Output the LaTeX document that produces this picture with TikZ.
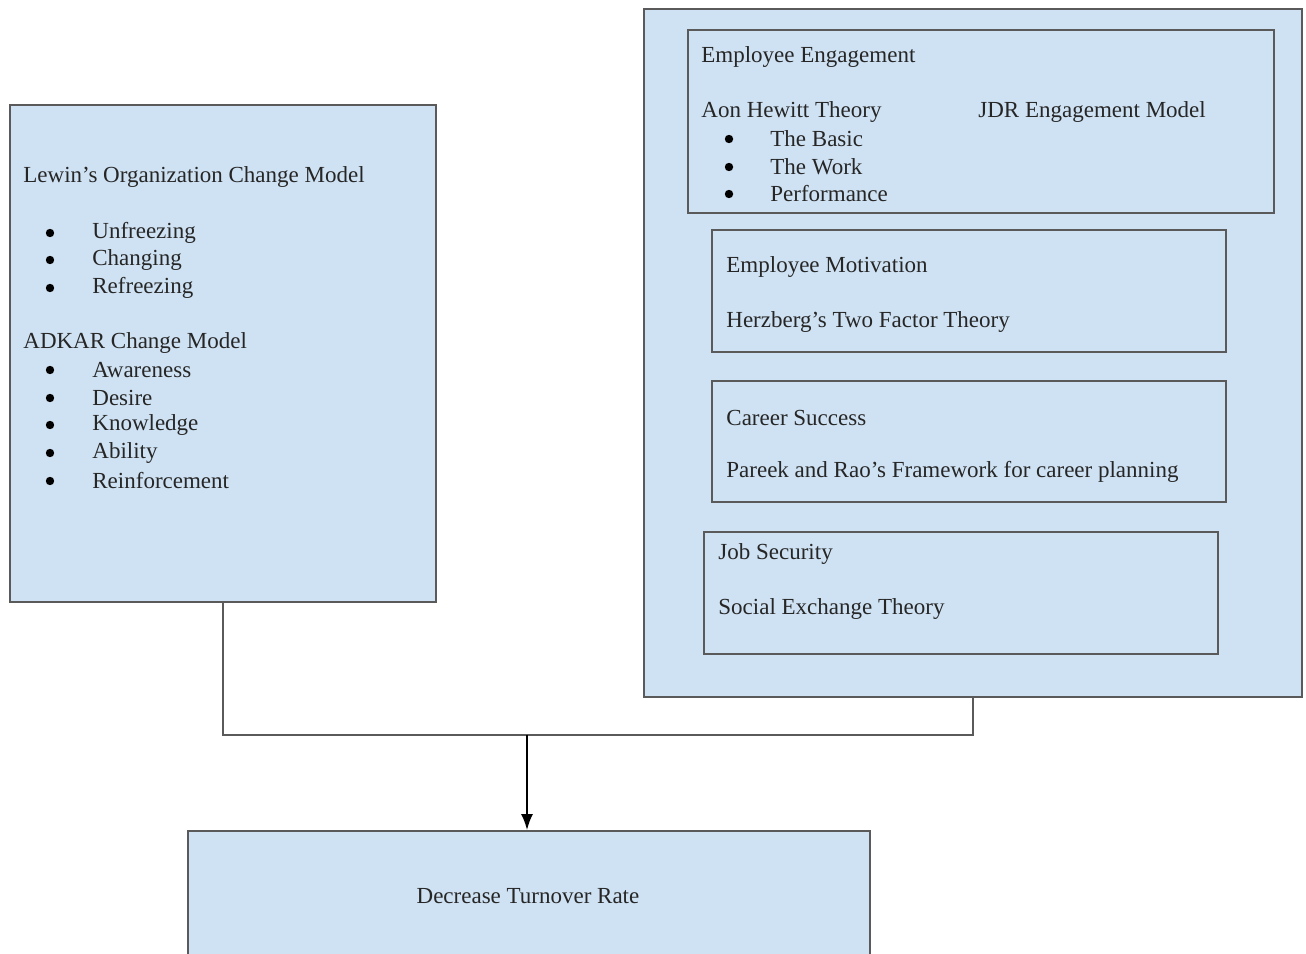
\documentclass[tikz,border=0pt]{standalone}
\usepackage{fontspec}
\setmainfont{Liberation Serif}
\usetikzlibrary{fit,arrows.meta}
\definecolor{boxfill}{HTML}{CFE2F3}
\definecolor{boxline}{HTML}{5A5A5A}
\definecolor{txt}{HTML}{262626}
\tikzset{
  box/.style={draw=boxline, fill=boxfill, line width=0.8pt, inner sep=0pt},
  lbl/.style={anchor=west, inner sep=0pt, text=txt, font=\fontsize{11.5}{14}\selectfont},
  bul/.style={circle, fill=black, inner sep=0pt, minimum size=4.2pt},
  conn/.style={draw=boxline, line width=0.7pt},
  arr/.style={draw=black, line width=1.1pt, -{Latex[length=8pt,width=6pt]}}
}
\begin{document}
\begin{tikzpicture}[x=0.5pt,y=-0.5pt]
\useasboundingbox (0,0) rectangle (1306,953);
% boxes
\node[box, fit={(10,105) (436,602)}] (L) {};
\node[box, fit={(644,9) (1302,697)}] (R) {};
\node[box, fit={(688,30) (1274,213)}] (R1) {};
\node[box, fit={(712,230) (1226,352)}] (R2) {};
\node[box, fit={(712,381) (1226,502)}] (R3) {};
\node[box, fit={(704,532) (1218,654)}] (R4) {};
\node[box, fit={(188,831) (870,960)}] (B) {};
% left texts
\node[lbl] (l0) at (23,177) {Lewin’s Organization Change Model};
\node[bul] (b1) at (50,233) {}; \node[lbl] (l1) at (92,233) {Unfreezing};
\node[bul] (b2) at (50,260) {}; \node[lbl] (l2) at (92,260) {Changing};
\node[bul] (b3) at (50,288) {}; \node[lbl] (l3) at (92,288) {Refreezing};
\node[lbl] (a0) at (23,343) {ADKAR Change Model};
\node[bul] (b4) at (50,370) {}; \node[lbl] (a1) at (92,370) {Awareness};
\node[bul] (b5) at (50,398) {}; \node[lbl] (a2) at (92,398) {Desire};
\node[bul] (b6) at (50,425) {}; \node[lbl] (a3) at (92,425) {Knowledge};
\node[bul] (b7) at (50,453) {}; \node[lbl] (a4) at (92,453) {Ability};
\node[bul] (b8) at (50,481) {}; \node[lbl] (a5) at (92,481) {Reinforcement};
% right texts
\node[lbl] (e0) at (701,57) {Employee Engagement};
\node[lbl] (e1) at (701,112) {Aon Hewitt Theory};
\node[lbl] (e2) at (978,112) {JDR Engagement Model};
\node[bul] (c1) at (729,139) {}; \node[lbl] (e3) at (770,139) {The Basic};
\node[bul] (c2) at (729,167) {}; \node[lbl] (e4) at (770,167) {The Work};
\node[bul] (c3) at (729,194) {}; \node[lbl] (e5) at (770,194) {Performance};
\node[lbl] (m0) at (726,267) {Employee Motivation};
\node[lbl] (m1) at (726,322) {Herzberg’s Two Factor Theory};
\node[lbl] (s0) at (726,418) {Career Success};
\node[lbl] (s1) at (726,472) {Pareek and Rao’s Framework for career planning};
\node[lbl] (j0) at (718,554) {Job Security};
\node[lbl] (j1) at (718,609) {Social Exchange Theory};
\node[lbl, anchor=center] (d0) at (528,896) {Decrease Turnover Rate};
% connectors
\coordinate (J) at (527,735);
\draw[conn] (L.south) |- (J) -| (R.south);
\draw[arr] (J) -- (J |- B.north);
\end{tikzpicture}
\end{document}
